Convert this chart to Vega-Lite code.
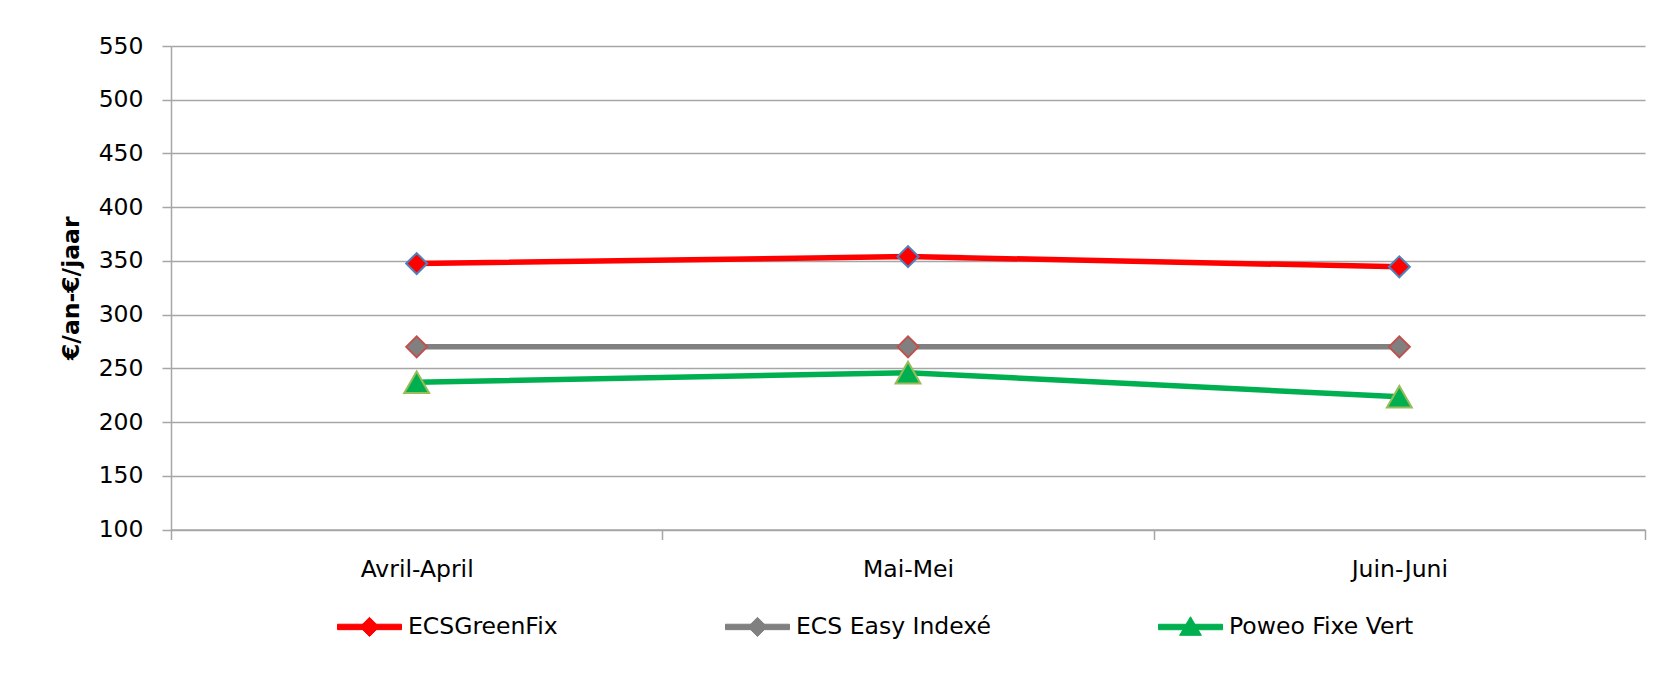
{
  "$schema": "https://vega.github.io/schema/vega-lite/v6.json",
  "autosize": "none",
  "width": 1474,
  "height": 483.5,
  "padding": {"left": 171, "top": 46, "right": 18, "bottom": 144.5},
  "background": "white",
  "config": {
    "view": {"stroke": null},
    "font": "DejaVu Sans"
  },
  "data": {
    "values": [
      {"month": "Avril-April", "series": "ECSGreenFix", "value": 347.5},
      {"month": "Mai-Mei", "series": "ECSGreenFix", "value": 354},
      {"month": "Juin-Juni", "series": "ECSGreenFix", "value": 344.5},
      {"month": "Avril-April", "series": "ECS Easy Indexé", "value": 270},
      {"month": "Mai-Mei", "series": "ECS Easy Indexé", "value": 270},
      {"month": "Juin-Juni", "series": "ECS Easy Indexé", "value": 270},
      {"month": "Avril-April", "series": "Poweo Fixe Vert", "value": 237},
      {"month": "Mai-Mei", "series": "Poweo Fixe Vert", "value": 246},
      {"month": "Juin-Juni", "series": "Poweo Fixe Vert", "value": 223.5}
    ]
  },
  "encoding": {
    "x": {
      "field": "month", "type": "nominal", "sort": null,
      "scale": {"domain": ["Avril-April", "Mai-Mei", "Juin-Juni"], "paddingInner": 0, "paddingOuter": 0},
      "axis": {
        "orient": "bottom", "title": null, "grid": false, "tickBand": "extent",
        "ticks": true, "tickSize": 10, "tickColor": "#a6a6a6", "tickWidth": 1.5,
        "domain": true, "domainColor": "#a6a6a6", "domainWidth": 1.5,
        "labelAngle": 0, "labelPadding": 18, "labelFont": "DejaVu Sans", "labelFontSize": 23.5, "labelColor": "#000000"
      }
    },
    "y": {
      "field": "value", "type": "quantitative",
      "scale": {"domain": [100, 550], "nice": false, "zero": false},
      "axis": {
        "title": "€/an-€/jaar", "titleFont": "DejaVu Sans", "titleFontSize": 23.5, "titleFontWeight": "bold", "titleColor": "#000000", "titlePadding": 15,
        "values": [100, 150, 200, 250, 300, 350, 400, 450, 500, 550],
        "labelFont": "DejaVu Sans", "labelFontSize": 23.5, "labelColor": "#000000", "labelPadding": 19,
        "tickSize": 9, "tickColor": "#a6a6a6", "tickWidth": 1.5,
        "domain": true, "domainColor": "#a6a6a6", "domainWidth": 1.5,
        "grid": true, "gridColor": "#a6a6a6", "gridWidth": 1.5
      }
    },
    "color": {
      "field": "series", "type": "nominal",
      "scale": {"domain": ["ECSGreenFix", "ECS Easy Indexé", "Poweo Fixe Vert"], "range": ["#ff0000", "#808080", "#00b050"]},
      "legend": {
        "title": null, "orient": "none", "legendX": 166, "legendY": 548, "direction": "horizontal",
        "columnPadding": 165, "symbolSize": 4096, "labelOffset": 6,
        "labelFont": "DejaVu Sans", "labelFontSize": 23.5, "labelColor": "#000000", "labelLimit": 400,
        "symbolStrokeWidth": 1,
        "encode": {
          "symbols": {
            "update": {
              "shape": {"signal": "datum.value === 'Poweo Fixe Vert' ? 'M-1,-0.085H1V0.085H-1Z M0,-0.32L0.34,0.26H-0.34Z' : 'M-1,-0.085H1V0.085H-1Z M0,-0.3L0.3,0L0,0.3L-0.3,0Z'"},
              "size": {"value": 4096},
              "fill": {"scale": "color", "field": "value"},
              "stroke": {"scale": "color", "field": "value"},
              "fillOpacity": {"value": 1},
              "strokeWidth": {"value": 1}
            }
          }
        }
      }
    }
  },
  "layer": [
    {
      "mark": {"type": "line", "strokeWidth": 5.5, "strokeCap": "round"}
    },
    {
      "transform": [{"filter": "datum.series === 'ECSGreenFix'"}],
      "mark": {"type": "point", "filled": true, "opacity": 1, "strokeWidth": 2, "shape": "diamond", "size": 440, "stroke": "#4f81bd"}
    },
    {
      "transform": [{"filter": "datum.series === 'ECS Easy Indexé'"}],
      "mark": {"type": "point", "filled": true, "opacity": 1, "strokeWidth": 2, "shape": "diamond", "size": 440, "stroke": "#c0504d"}
    },
    {
      "transform": [{"filter": "datum.series === 'Poweo Fixe Vert'"}],
      "mark": {"type": "point", "filled": true, "opacity": 1, "strokeWidth": 2, "shape": "triangle-up", "size": 620, "stroke": "#9bbb59"}
    }
  ]
}
